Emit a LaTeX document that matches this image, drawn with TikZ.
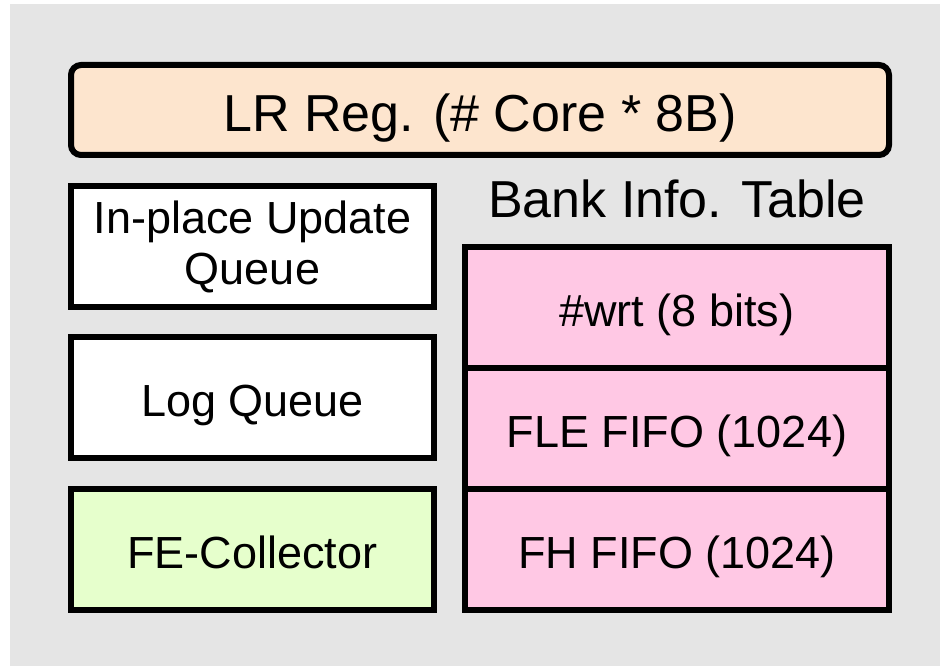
\documentclass[tikz,border=0pt]{standalone}
\usepackage{fontspec}
\setmainfont{Liberation Sans}
\definecolor{panelgray}{RGB}{229,229,229}
\definecolor{peach}{RGB}{253,229,206}
\definecolor{pinkcell}{RGB}{255,200,228}
\definecolor{lightgreen}{RGB}{230,255,204}
\tikzset{
  unitbox/.style={draw=black, line width=6pt, inner sep=0pt, outer sep=0pt,
    align=center, font=\fontsize{45}{51}\selectfont},
  oneline/.style={text height=40.7pt, text depth=3.6pt},
  bigline/.style={font=\fontsize{52}{58}\selectfont, text height=47pt, text depth=4pt},
  leftbox/.style={unitbox, minimum width=363pt, minimum height=121pt},
  cellbox/.style={unitbox, oneline, fill=pinkcell, minimum width=424pt, minimum height=121pt},
}
\begin{document}
\begin{tikzpicture}[x=1pt, y=-1pt]
  \useasboundingbox (0,0) rectangle (940,666);
  \fill[white] (0,0) rectangle (940,666);
  \fill[panelgray] (10,4) rectangle (940,666);

  % shared register across cores
  \node[unitbox, bigline, fill=peach, rounded corners=10pt, minimum width=818pt,
        minimum height=90pt] (lr) at (480,110) {LR Reg. (\# Core * 8B)};

  % queues and collector
  \node[leftbox, fill=white] (ipu) at (252.5,246.5) {In-place Update\\Queue};
  \node[leftbox, oneline, fill=white] (logq) at (252.5,397.5) {Log Queue};
  \node[leftbox, oneline, fill=lightgreen] (fec) at (252.5,549.5) {FE-Collector};

  % per-bank information table
  \node[font=\fontsize{52}{58}\selectfont, anchor=base, inner sep=0pt] (bittitle) at (677,217) {Bank Info. Table};
  \node[cellbox] (wrt) at (677,307.5) {\#wrt (8 bits)};
  \node[cellbox] (fle) at (677,428.5) {FLE FIFO (1024)};
  \node[cellbox] (fh) at (677,549.5) {FH FIFO (1024)};
\end{tikzpicture}
\end{document}
